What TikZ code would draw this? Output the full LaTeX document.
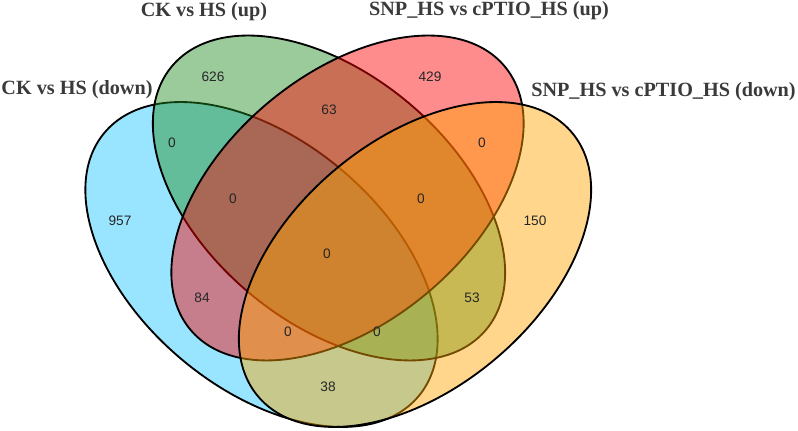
\documentclass[tikz,border=0pt]{standalone}
\usepackage{fontspec}
\setmainfont{Liberation Serif}
\setsansfont{Liberation Sans}
\definecolor{cblu}{RGB}{0,191,255}
\definecolor{cverde}{RGB}{34,139,34}
\definecolor{crosso}{RGB}{255,0,0}
\definecolor{carancio}{RGB}{255,165,0}
\definecolor{ctitolo}{RGB}{58,58,58}
\tikzset{
  insieme/.style={draw=black, line width=1.05pt, fill opacity=0.45},
  titolo/.style={font=\fontsize{11.5}{13}\selectfont\bfseries, text=ctitolo, inner sep=0pt, anchor=base},
  numero/.style={font=\sffamily\fontsize{7.8}{9}\selectfont, text=black!85, inner sep=0pt}
}
\begin{document}
\begin{tikzpicture}[x=0.02cm,y=0.02cm]
    \useasboundingbox (0,0) rectangle (798,431);
    % Insiemi
    \coordinate (cA) at (261.5,166.5);
    \coordinate (cB) at (329,233);
    \coordinate (cC) at (347.5,233);
    \coordinate (cD) at (415,166.5);
    \draw [insieme, fill=cblu, fill opacity=0.4, rotate around={-40:(cA)}] (cA) ellipse (205 and 124);
    \draw [insieme, fill=cverde, rotate around={-40:(cB)}] (cB) ellipse (205 and 124);
    \draw [insieme, fill=crosso, rotate around={40:(cC)}] (cC) ellipse (205 and 124);
    \draw [insieme, fill=carancio, rotate around={40:(cD)}] (cD) ellipse (205 and 124);
    % Titoli
    \node [titolo] (tA) at (77,336) {CK vs HS (down)};
    \node [titolo] (tB) at (204,414) {CK vs HS (up)};
    \node [titolo] (tC) at (489,415) {SNP\_HS vs cPTIO\_HS (up)};
    \node [titolo] (tD) at (663.5,334) {SNP\_HS vs cPTIO\_HS (down)};
    % Numeri
    \node [numero] (nA) at (120,210) {957};
    \node [numero] (nB) at (213,354) {626};
    \node [numero] (nC) at (430,354) {429};
    \node [numero] (nD) at (535,210) {150};
    \node [numero] (nAB) at (172,288) {0};
    \node [numero] (nBC) at (329,321) {63};
    \node [numero] (nCD) at (482,288) {0};
    \node [numero] (nABC) at (233,232) {0};
    \node [numero] (nBCD) at (421,232) {0};
    \node [numero] (nAC) at (202,133) {84};
    \node [numero] (nBD) at (472,133) {53};
    \node [numero] (nABCD) at (327,177) {0};
    \node [numero] (nACD) at (288,99) {0};
    \node [numero] (nABD) at (377,99) {0};
    \node [numero] (nAD) at (328,44) {38};
\end{tikzpicture}
\end{document}
